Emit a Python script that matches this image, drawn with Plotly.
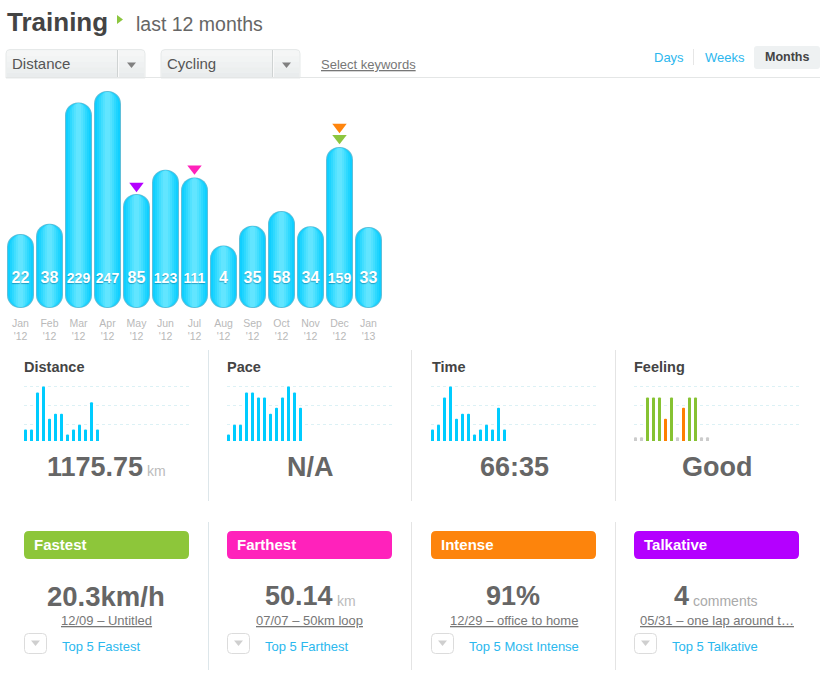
import plotly.graph_objects as go

W, H = 830, 676
FONT = "Liberation Sans, Arial, sans-serif"

# ---------- data ----------
months = ["Jan<br>'12", "Feb<br>'12", "Mar<br>'12", "Apr<br>'12", "May<br>'12", "Jun<br>'12", "Jul<br>'12",
          "Aug<br>'12", "Sep<br>'12", "Oct<br>'12", "Nov<br>'12", "Dec<br>'12", "Jan<br>'13"]
distance_km = [22, 38, 229, 247, 85, 123, 111, 4, 35, 58, 34, 159, 33]

flag_months = [4, 6, 11, 11]
flag_colors = ["#b400ff", "#ff22bb", "#8cc63f", "#ff850d"]
flag_lifts = [12.6, 14, 14, 31.5]

spark_distance = [21, 21, 89, 100, 41, 50, 50, 12, 21, 30, 21, 71, 21]
spark_pace = [12, 30, 30, 89, 89, 80, 80, 50, 61, 80, 100, 89, 61]
spark_time = [21, 30, 80, 100, 41, 50, 50, 12, 21, 30, 21, 61, 21]
spark_feeling = [7, 7, 80, 80, 80, 41, 80, 7, 61, 80, 80, 7, 7]
feeling_colors = ["#cccccc", "#cccccc", "#86c232", "#86c232", "#86c232", "#ff7f00", "#86c232",
                  "#cccccc", "#ff7f00", "#86c232", "#86c232", "#cccccc", "#cccccc"]

panel_titles = ["Distance", "Pace", "Time", "Feeling"]
panel_values = ["1175.75", "N/A", "66:35", "Good"]
badge_titles = ["Fastest", "Farthest", "Intense", "Talkative"]
badge_colors = ["#8dc63a", "#ff22bb", "#fd840c", "#b400ff"]
badge_links = ["12/09 – Untitled", "07/07 – 50km loop", "12/29 – office to home", "05/31 – one lap around t…"]
badge_more = ["Top 5 Fastest", "Top 5 Farthest", "Top 5 Most Intense", "Top 5 Talkative"]

# ---------- pixel helpers ----------
def px(x):
    return x / W

def py(y):
    return 1 - y / H

shapes, notes = [], []

def text(x, y, s, size, color, bold=False, anchor="left"):
    t = f"<b>{s}</b>" if bold else s
    notes.append(dict(x=px(x), y=py(y), xref="paper", yref="paper", text=t, showarrow=False,
                      xanchor=anchor, yanchor="middle", borderpad=0, borderwidth=0,
                      font=dict(family=FONT, size=size, color=color)))

def rrect(x0, y0, x1, y1, r, fill, line=None, corners="all"):
    X0, X1, Y0, Y1 = px(x0), px(x1), py(y0), py(y1)
    rx, ry = r / W, r / H
    bottom = corners == "all"
    p = f"M{X0+rx},{Y0} L{X1-rx},{Y0} Q{X1},{Y0} {X1},{Y0-ry} "
    if bottom:
        p += f"L{X1},{Y1+ry} Q{X1},{Y1} {X1-rx},{Y1} L{X0+rx},{Y1} Q{X0},{Y1} {X0},{Y1+ry} "
    else:
        p += f"L{X1},{Y1} L{X0},{Y1} "
    p += f"L{X0},{Y0-ry} Q{X0},{Y0} {X0+rx},{Y0} Z"
    shapes.append(dict(type="path", path=p, xref="paper", yref="paper", fillcolor=fill,
                       line=dict(color=line or fill, width=1 if line else 0), layer="below"))

def rect(x0, y0, x1, y1, fill):
    shapes.append(dict(type="rect", x0=px(x0), x1=px(x1), y0=py(y0), y1=py(y1), xref="paper", yref="paper",
                       fillcolor=fill, line=dict(width=0), layer="below"))

def tri(pts, fill):
    p = "M" + " L".join(f"{px(a)},{py(b)}" for a, b in pts) + " Z"
    shapes.append(dict(type="path", path=p, xref="paper", yref="paper", fillcolor=fill,
                       line=dict(width=0), layer="below"))

def vline(x, y0, y1, color):
    rect(x, y0, x + 1, y1, color)

# ---------- header ----------
text(7, 22, "Training", 26, "#444444", bold=True)
tri([(117, 15), (123, 19.5), (117, 24)], "#8cc63f")
text(136, 24.5, "last 12 months", 19.5, "#666666")

for x0, x1, label in [(6, 145, "Distance"), (161, 300, "Cycling")]:
    rrect(x0, 49.5, x1, 78, 4, "#f3f5f5", "#e6e9e9", corners="top")
    for i, c in enumerate(["#f5f6f6", "#f2f4f4", "#eff1f2", "#ecefef", "#e9eced"]):
        rect(x0 + 1, 51 + i * 5.4, x1 - 1, 51 + (i + 1) * 5.4, c)
    vline(x0 + 111, 50, 78, "#cfd3d3")
    rect(x0 + 112, 50, x0 + 113, 78, "#fafafa")
    tri([(x0 + 121, 62.5), (x0 + 130, 62.5), (x0 + 125.5, 68)], "#808080")
    text(x0 + 6, 63.5, label, 15, "#555555")
text(321, 64.5, "<u>Select keywords</u>", 13, "#777777")
rect(6, 77, 820, 78, "#e4e6e6")

text(669, 57.5, "Days", 13, "#2db7ee", anchor="center")
vline(693, 49, 65, "#e6e6e6")
text(724.5, 57.5, "Weeks", 13, "#2db7ee", anchor="center")
rrect(754, 46, 820, 69, 3, "#eef1f2")
text(787, 57.5, "Months", 12.5, "#444444", bold=True, anchor="center")

# ---------- panels ----------
seps = [(208, "#dde6ea"), (411, "#e4e4e4"), (615, "#e4e4e4")]
for x, c in seps:
    vline(x, 350, 501, c)
    vline(x, 522, 670, c)

title_x = [24, 227, 432, 634]
value_cx = [95, 310, 514, 717]
for x, t in zip(title_x, panel_titles):
    text(x, 367, t, 14.5, "#444444", bold=True)
text(47, 467, panel_values[0], 27, "#666666", bold=True)
text(147, 471, "km", 14, "#bbbbbb")
for i in (1, 2, 3):
    text(value_cx[i], 467, panel_values[i], 27, "#666666", bold=True, anchor="center")

# ---------- badges ----------
badge_x = [24, 227, 431, 634]
link_cx = [106.5, 309.5, 514, 717]
more_x = [62, 265, 469, 672]
for i in range(4):
    x = badge_x[i]
    rrect(x, 531, x + 165, 559, 5, badge_colors[i])
    text(x + 10, 544.2, badge_titles[i], 15, "#ffffff", bold=True)
    text(link_cx[i], 620.5, f"<u>{badge_links[i]}</u>", 13, "#777777", anchor="center")
    rrect(x + 0.5, 633.5, x + 22.5, 653.5, 4, "#ffffff", "#dcdcdc")
    tri([(x + 7, 640.5), (x + 16, 640.5), (x + 11.5, 646)], "#cfcfcf")
    text(more_x[i], 646.5, badge_more[i], 13, "#2bb8ee")

text(106, 596, "20.3km/h", 27.5, "#666666", bold=True, anchor="center")
text(265, 596, "50.14", 27, "#666666", bold=True)
text(337, 601, "km", 14, "#bbbbbb")
text(513, 596, "91%", 27, "#666666", bold=True, anchor="center")
text(674, 596, "4", 27, "#666666", bold=True)
text(693, 601, "comments", 14, "#aaaaaa")

# ---------- main chart ----------
fig = go.Figure()
PX_PER_KM = 0.635
BOTTOM = -60 / PX_PER_KM       # value at the foot of every pill
FOOT_TOP = BOTTOM + 28 / PX_PER_KM    # top of the rounded foot
BAND_LOW = BOTTOM + 14 / PX_PER_KM    # flat band joining foot and upper part
BAND_HIGH = BOTTOM + 47 / PX_PER_KM
UPPER_BASE = BOTTOM + 30 / PX_PER_KM
LABEL_Y = BOTTOM + 28.5 / PX_PER_KM
PITCH = 29
layers = [(27, "#5fbfd9", 0.0), (25, "#10cfff", 1.0), (21, "#1ed4ff", 1.0), (17, "#2fd9ff", 1.0),
          (13, "#42deff", 1.0), (9, "#53e2ff", 1.0), (5, "#62e5ff", 1.0)]
for width_px, color, inset in layers:
    w = width_px / PITCH
    d = inset / PX_PER_KM
    n = len(months)
    fig.add_bar(x=months, y=[v - d - UPPER_BASE for v in distance_km], base=UPPER_BASE, width=w,
                marker=dict(color=color, cornerradius="50%", line=dict(width=0)),
                hoverinfo="skip", showlegend=False)
    fig.add_bar(x=months, y=[BOTTOM + d - FOOT_TOP] * n, base=FOOT_TOP, width=w,
                marker=dict(color=color, cornerradius="50%", line=dict(width=0)),
                hoverinfo="skip", showlegend=False)
    fig.add_bar(x=months, y=[BAND_HIGH - BAND_LOW] * n, base=BAND_LOW, width=w,
                marker=dict(color=color, line=dict(width=0)),
                hoverinfo="skip", showlegend=False)

fig.add_scatter(x=months, y=[LABEL_Y] * len(months), mode="text",
                text=[str(v) for v in distance_km],
                textfont=dict(family=FONT, color="#ffffff", weight="bold",
                              size=[14 if v >= 100 else 16 for v in distance_km],
                              shadow="0px 1px 1px rgba(0,110,150,0.55)"),
                hoverinfo="skip", showlegend=False)
fig.add_scatter(x=[months[i] for i in flag_months],
                y=[distance_km[i] + l for i, l in zip(flag_months, flag_lifts)],
                mode="markers",
                marker=dict(symbol="triangle-down", size=12.5, color=flag_colors, line=dict(width=0)),
                hoverinfo="skip", showlegend=False)

layout = dict(
    width=W, height=H, margin=dict(l=0, r=0, t=0, b=0), autosize=False,
    paper_bgcolor="#ffffff", plot_bgcolor="rgba(0,0,0,0)",
    barmode="overlay", showlegend=False, shapes=shapes, annotations=notes,
    font=dict(family=FONT),
    xaxis=dict(domain=[px(6), px(382)], range=[(6 - 20.5) / PITCH, (382 - 20.5) / PITCH],
               type="category", categoryorder="array", categoryarray=months,
               showgrid=False, zeroline=False, showline=False,
               ticks="outside", ticklen=5, tickcolor="rgba(0,0,0,0)",
               tickfont=dict(family=FONT, size=10.5, color="#b9b9b9"), tickangle=0),
    yaxis=dict(domain=[py(308), py(91)], range=[BOTTOM, 247], visible=False),
)

# ---------- sparklines ----------
sparks = [(24, spark_distance, "#00ccff"), (227, spark_pace, "#00ccff"),
          (431, spark_time, "#00ccff"), (634, spark_feeling, feeling_colors)]
SPARK_W = 165
for k, (x0, vals, color) in enumerate(sparks, start=2):
    fig.add_bar(x=list(range(len(vals))), y=vals, width=0.5, xaxis=f"x{k}", yaxis=f"y{k}",
                marker=dict(color=color, cornerradius="50%", line=dict(width=0)),
                hoverinfo="skip", showlegend=False)
    layout[f"xaxis{k}"] = dict(domain=[px(x0), px(x0 + SPARK_W)], range=[-0.25, 27.25], visible=False,
                               anchor=f"y{k}")
    layout[f"yaxis{k}"] = dict(domain=[py(441), py(385.4)], range=[0, 102], anchor=f"x{k}",
                               tickvals=[30, 65, 100], showticklabels=False, ticks="",
                               showgrid=True, gridcolor="#dcf1f5", griddash="dot", gridwidth=1,
                               zeroline=False, showline=False)

fig.update_layout(**layout)
fig.write_html("out.html", config=dict(displayModeBar=False),
               post_script="document.body.style.margin='0';document.body.style.overflow='hidden';")
